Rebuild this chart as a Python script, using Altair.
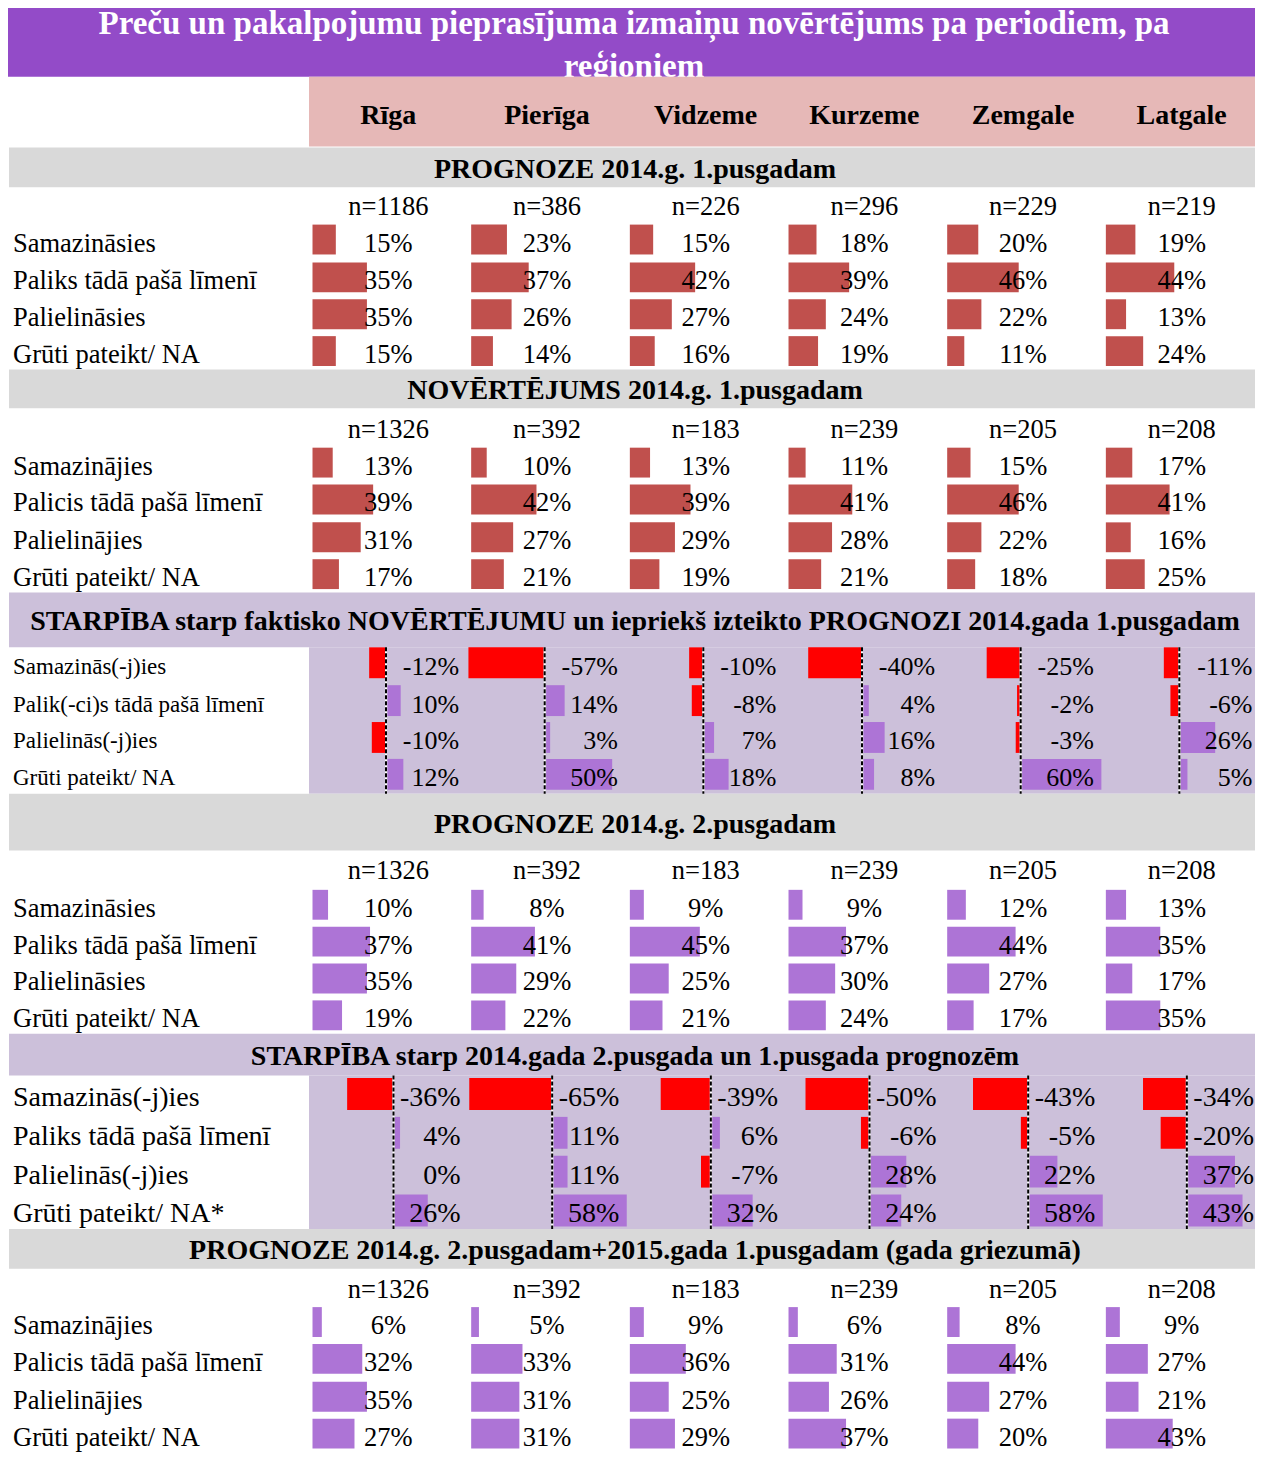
import altair as alt
import pandas as pd

# ---------------- data ----------------
REGIONS = ["Rīga", "Pierīga", "Vidzeme", "Kurzeme", "Zemgale", "Latgale"]
TITLE_LINES = ["Preču un pakalpojumu pieprasījuma izmaiņu novērtējums pa periodiem, pa",
               "reģioniem"]

S1_TITLE = "PROGNOZE 2014.g. 1.pusgadam"
S1_N = [1186, 386, 226, 296, 229, 219]
S1_LABELS = ["Samazināsies", "Paliks tādā pašā līmenī", "Palielināsies", "Grūti pateikt/ NA"]
S1_VALUES = [[15, 23, 15, 18, 20, 19],
             [35, 37, 42, 39, 46, 44],
             [35, 26, 27, 24, 22, 13],
             [15, 14, 16, 19, 11, 24]]

S2_TITLE = "NOVĒRTĒJUMS 2014.g. 1.pusgadam"
S2_N = [1326, 392, 183, 239, 205, 208]
S2_LABELS = ["Samazinājies", "Palicis tādā pašā līmenī", "Palielinājies", "Grūti pateikt/ NA"]
S2_VALUES = [[13, 10, 13, 11, 15, 17],
             [39, 42, 39, 41, 46, 41],
             [31, 27, 29, 28, 22, 16],
             [17, 21, 19, 21, 18, 25]]

S3_TITLE = "STARPĪBA starp faktisko NOVĒRTĒJUMU un iepriekš izteikto PROGNOZI 2014.gada 1.pusgadam"
S3_LABELS = ["Samazinās(-j)ies", "Palik(-ci)s tādā pašā līmenī", "Palielinās(-j)ies", "Grūti pateikt/ NA"]
S3_VALUES = [[-12, -57, -10, -40, -25, -11],
             [10, 14, -8, 4, -2, -6],
             [-10, 3, 7, 16, -3, 26],
             [12, 50, 18, 8, 60, 5]]

S4_TITLE = "PROGNOZE 2014.g. 2.pusgadam"
S4_N = [1326, 392, 183, 239, 205, 208]
S4_LABELS = ["Samazināsies", "Paliks tādā pašā līmenī", "Palielināsies", "Grūti pateikt/ NA"]
S4_VALUES = [[10, 8, 9, 9, 12, 13],
             [37, 41, 45, 37, 44, 35],
             [35, 29, 25, 30, 27, 17],
             [19, 22, 21, 24, 17, 35]]

S5_TITLE = "STARPĪBA starp 2014.gada 2.pusgada un 1.pusgada prognozēm"
S5_LABELS = ["Samazinās(-j)ies", "Paliks tādā pašā līmenī", "Palielinās(-j)ies", "Grūti pateikt/ NA*"]
S5_VALUES = [[-36, -65, -39, -50, -43, -34],
             [4, 11, 6, -6, -5, -20],
             [0, 11, -7, 28, 22, 37],
             [26, 58, 32, 24, 58, 43]]

S6_TITLE = "PROGNOZE 2014.g. 2.pusgadam+2015.gada 1.pusgadam (gada griezumā)"
S6_N = [1326, 392, 183, 239, 205, 208]
S6_LABELS = ["Samazinājies", "Palicis tādā pašā līmenī", "Palielinājies", "Grūti pateikt/ NA"]
S6_VALUES = [[6, 5, 9, 6, 8, 9],
             [32, 33, 36, 31, 44, 27],
             [35, 31, 25, 26, 27, 21],
             [27, 31, 29, 37, 20, 43]]

# ---------------- layout / styles ----------------
FONT = "Liberation Serif"
COL0, COLW = 311, 158.67
LEFT, RIGHT = 11, 1263
GREY, LAV, PINK, TPURP = "#D9D9D9", "#CCC0DA", "#E6B8B7", "#934BC8"
DRED, PURP, RED = "#C0504D", "#AD74D6", "#FF0000"
TXT_DY = 1.5

SECTIONS = [
    dict(title=S1_TITLE, n=S1_N, labels=S1_LABELS, values=S1_VALUES, kind="pct",
         band=(151, 191, GREY), n_y=209, rows_y=[246, 284, 321, 358], color=DRED),
    dict(title=S2_TITLE, n=S2_N, labels=S2_LABELS, values=S2_VALUES, kind="pct",
         band=(374, 413, GREY), n_y=433, rows_y=[470, 507, 545, 582], color=DRED),
    dict(title=S3_TITLE, n=None, labels=S3_LABELS, values=S3_VALUES, kind="diff",
         band=(598, 653, LAV), area=(653, 800), rows_y=[671, 709, 746, 783], color=PURP,
         zero=77, k=1.32, lsize=23, vsize=26, voff=8.5, half=15.5),
    dict(title=S4_TITLE, n=S4_N, labels=S4_LABELS, values=S4_VALUES, kind="pct",
         band=(800, 857, GREY), n_y=876, rows_y=[914, 951, 988, 1025], color=PURP),
    dict(title=S5_TITLE, n=None, labels=S5_LABELS, values=S5_VALUES, kind="diff",
         band=(1041, 1083, LAV), area=(1083, 1237), rows_y=[1104, 1143, 1182, 1221], color=PURP,
         zero=84.5, k=1.26, lsize=28, vsize=28, voff=7, half=16),
    dict(title=S6_TITLE, n=S6_N, labels=S6_LABELS, values=S6_VALUES, kind="pct",
         band=(1237, 1277, GREY), n_y=1297, rows_y=[1333, 1370, 1408, 1445], color=PURP),
]

NSIZE = 26.5
HSIZE = 28
TSIZE = 33

# ---------------- build tables ----------------
rects_under = [dict(x=9, x2=RIGHT, y=11, y2=80, fill=TPURP)]
rects = [dict(x=COL0, x2=RIGHT, y=80, y2=150, fill=PINK)]
bars, rules, texts = [], [], []

title_rows = [dict(x=(9 + RIGHT) / 2, y=37, text=TITLE_LINES[0]),
              dict(x=(9 + RIGHT) / 2, y=80, text=TITLE_LINES[1])]

for ri, reg in enumerate(REGIONS):
    texts.append(dict(x=COL0 + COLW * (ri + 0.5), y=118 + TXT_DY, text=reg, size=HSIZE,
                      weight="bold", align="center"))

for s in SECTIONS:
    b0, b1, bc = s["band"]
    rects.append(dict(x=LEFT, x2=RIGHT, y=b0, y2=b1, fill=bc))
    texts.append(dict(x=(LEFT + RIGHT) / 2, y=(b0 + b1) / 2 + 1 + TXT_DY, text=s["title"],
                      size=HSIZE, weight="bold", align="center"))
    if s["kind"] == "diff":
        a0, a1 = s["area"]
        rects.append(dict(x=COL0, x2=RIGHT, y=a0, y2=a1, fill=LAV))
    lsize = s.get("lsize", NSIZE)
    vsize = s.get("vsize", NSIZE)
    if s["n"] is not None:
        for ri, nv in enumerate(s["n"]):
            texts.append(dict(x=COL0 + COLW * (ri + 0.5), y=s["n_y"] + TXT_DY, text=f"n={nv}",
                              size=NSIZE, weight="normal", align="center"))
    for li, lab in enumerate(s["labels"]):
        yc = s["rows_y"][li]
        texts.append(dict(x=15, y=yc + TXT_DY, text=lab, size=lsize, weight="normal",
                          align="left"))
        for ri, v in enumerate(s["values"][li]):
            cs = COL0 + COLW * ri
            if s["kind"] == "pct":
                bars.append(dict(value=v, base=cs + 3.5, k=1.555, gneg=0, gpos=0,
                                 yc=yc - 2.5, half=15, pos=s["color"]))
                texts.append(dict(x=cs + COLW / 2, y=yc + TXT_DY, text=f"{v}%", size=vsize,
                                  weight="normal", align="center"))
            else:
                bars.append(dict(value=v, base=cs + s["zero"], k=s["k"], gneg=1, gpos=1.5,
                                 yc=yc - 2.5, half=s["half"], pos=s["color"]))
                texts.append(dict(x=cs + COLW - s["voff"], y=yc + TXT_DY, text=f"{v}%",
                                  size=vsize, weight="normal", align="right"))
    if s["kind"] == "diff":
        a0, a1 = s["area"]
        for ri in range(len(REGIONS)):
            rules.append(dict(x=COL0 + COLW * ri + s["zero"], y=a0, y2=a1))

rects_under = pd.DataFrame(rects_under)
rects = pd.DataFrame(rects)
bars = pd.DataFrame(bars)
rules = pd.DataFrame(rules)
texts = pd.DataFrame(texts)
title_df = pd.DataFrame(title_rows)

# ---------------- chart ----------------
W, H = 1247, 1444
xs = alt.Scale(domain=[10, 10 + W], nice=False, zero=False)
ys = alt.Scale(domain=[11, 1461], nice=False, zero=False, reverse=True)


def X(f):
    return alt.X(f, type="quantitative", scale=xs, axis=None)


def Y(f):
    return alt.Y(f, type="quantitative", scale=ys, axis=None)


def rect_layer(df):
    return alt.Chart(df).mark_rect().encode(
        x=X("x"), x2="x2:Q", y=Y("y"), y2="y2:Q",
        color=alt.Color("fill:N", scale=None))


title_layer = alt.Chart(title_df).mark_text(
    font=FONT, fontWeight="bold", fontSize=TSIZE, color="white", align="center",
    baseline="alphabetic").encode(x=X("x"), y=Y("y"), text="text:N")

bar_layer = alt.Chart(bars).transform_calculate(
    xa="datum.base + (datum.value < 0 ? -datum.gneg : datum.gpos)",
).transform_calculate(
    xb="datum.xa + datum.value * datum.k",
    ya="datum.yc - datum.half",
    yb="datum.yc + datum.half",
    fill="datum.value < 0 ? '" + RED + "' : datum.pos",
).mark_rect().encode(
    x=X("xa"), x2="xb:Q", y=Y("ya"), y2="yb:Q",
    color=alt.Color("fill:N", scale=None))

rule_white = alt.Chart(rules).mark_rule(color="white", strokeWidth=2).encode(
    x=X("x"), y=Y("y"), y2="y2:Q")
rule_dash = alt.Chart(rules).mark_rule(color="black", strokeWidth=2, strokeDash=[4, 2]).encode(
    x=X("x"), y=Y("y"), y2="y2:Q")

text_layers = []
for (weight, align, size), sub in texts.groupby(["weight", "align", "size"]):
    text_layers.append(
        alt.Chart(sub[["x", "y", "text"]].reset_index(drop=True)).mark_text(
            font=FONT, fontWeight=weight, align=align, fontSize=float(size),
            baseline="middle", color="black").encode(
            x=X("x"), y=Y("y"), text="text:N"))

chart = alt.layer(
    rect_layer(rects_under), title_layer, rect_layer(rects), bar_layer,
    rule_white, rule_dash, *text_layers
).properties(
    width=W, height=H, autosize=alt.AutoSizeParams(type="none"), padding=0
).configure_view(strokeWidth=0)

chart.save("out.html", embed_options={"renderer": "svg", "actions": False})
